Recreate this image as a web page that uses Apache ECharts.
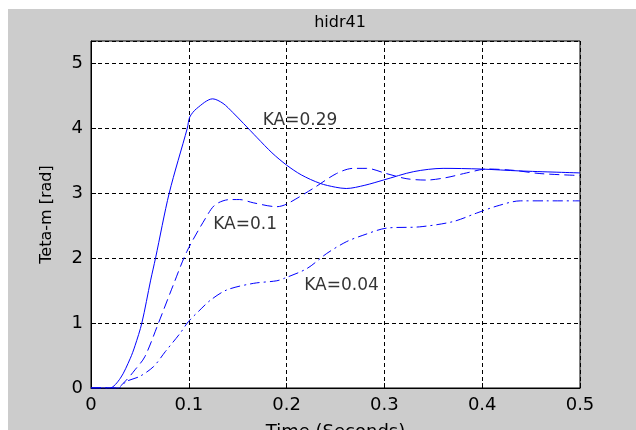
<!DOCTYPE html>
<html>
<head>
<meta charset="utf-8">
<script src="https://cdn.jsdelivr.net/npm/echarts@6/dist/echarts.min.js"></script>
<style>html,body{margin:0;padding:0;background:#fff}#c{width:636px;height:430px}</style>
</head>
<body>
<div id="c"></div>
<script>
// KA = 0.29 (solid)
var tSolid = [0, 0.019, 0.03, 0.04, 0.045, 0.052, 0.061, 0.066, 0.08, 0.0985, 0.101, 0.108, 0.1244, 0.135, 0.145, 0.156, 0.17, 0.185, 0.2, 0.215, 0.234, 0.25, 0.261, 0.28, 0.299, 0.33, 0.36, 0.398, 0.439, 0.5];
var ySolid = [0, 0, 0.15, 0.45, 0.65, 1.0, 1.66, 2.0, 3.0, 4.0, 4.17, 4.3, 4.45, 4.38, 4.24, 4.07, 3.85, 3.62, 3.43, 3.28, 3.15, 3.09, 3.07, 3.12, 3.2, 3.33, 3.38, 3.37, 3.34, 3.31];
// KA = 0.1 (dashed)
var tDashed = [0, 0.026, 0.036, 0.045, 0.055, 0.069, 0.084, 0.098, 0.117, 0.127, 0.142, 0.152, 0.166, 0.19, 0.2, 0.227, 0.251, 0.268, 0.282, 0.302, 0.323, 0.343, 0.364, 0.384, 0.405, 0.432, 0.459, 0.5];
var yDashed = [0, 0, 0.12, 0.28, 0.48, 1.0, 1.58, 2.1, 2.61, 2.82, 2.9, 2.9, 2.85, 2.79, 2.83, 3.07, 3.3, 3.38, 3.38, 3.3, 3.22, 3.2, 3.24, 3.31, 3.37, 3.35, 3.3, 3.27];
// KA = 0.04 (dash-dot)
var tDashDot = [0, 0.028, 0.036, 0.05, 0.064, 0.076, 0.091, 0.0995, 0.11, 0.122, 0.139, 0.166, 0.19, 0.198, 0.221, 0.241, 0.261, 0.278, 0.302, 0.336, 0.37, 0.394, 0.415, 0.439, 0.466, 0.5];
var yDashDot = [0, 0, 0.1, 0.18, 0.33, 0.56, 0.84, 1.02, 1.18, 1.35, 1.51, 1.61, 1.65, 1.69, 1.84, 2.07, 2.25, 2.35, 2.46, 2.48, 2.56, 2.69, 2.8, 2.88, 2.88, 2.88];
// annotation labels
var labelText = ['KA=0.29', 'KA=0.1', 'KA=0.04'];
var labelT = [0.1756, 0.125, 0.218];
var labelY = [4.12, 2.51, 1.58];

function pairs(t, y) { return t.map(function (v, i) { return [v, y[i]]; }); }

var chart = echarts.init(document.getElementById('c'), null, { renderer: 'canvas' });
var FONT = 'DejaVu Sans';
var blue = '#0000ff';
chart.setOption({
  backgroundColor: '#ffffff',
  animation: false,
  graphic: [{
    type: 'rect', left: 8, top: 9, z: -10,
    shape: { width: 628, height: 421 },
    style: { fill: '#cccccc' }
  }],
  title: {
    text: 'hidr41', left: 335, top: 10, textAlign: 'center',
    textStyle: { fontFamily: FONT, fontSize: 16, fontWeight: 'normal', color: '#000' }
  },
  grid: {
    left: 91, top: 41, right: 56, bottom: 42,
    containLabel: false, outerBoundsMode: 'none',
    show: true, backgroundColor: '#ffffff', borderColor: '#000', borderWidth: 1
  },
  xAxis: {
    type: 'value', min: 0, max: 0.5, interval: 0.1,
    name: 'Time (Seconds)', nameLocation: 'middle', nameGap: 35,
    nameTextStyle: { fontFamily: FONT, fontSize: 18, color: '#000' },
    axisLine: { lineStyle: { color: '#000' } },
    axisTick: { inside: true, length: 5, lineStyle: { color: '#000' } },
    axisLabel: { fontFamily: FONT, fontSize: 18, color: '#000', margin: 8,
      formatter: function (v) { return Math.round(v * 10) / 10 + ''; } },
    splitLine: { show: true, lineStyle: { color: '#000', type: [4, 3], width: 1 } }
  },
  yAxis: {
    type: 'value', min: 0, max: 5.34, interval: 1,
    name: 'Teta-m [rad]', nameLocation: 'middle', nameGap: 36,
    nameTextStyle: { fontFamily: FONT, fontSize: 16, color: '#000' },
    axisLine: { show: true, lineStyle: { color: '#000' } },
    axisTick: { show: true, inside: true, length: 5, lineStyle: { color: '#000' } },
    axisLabel: { fontFamily: FONT, fontSize: 18, color: '#000', margin: 8,
      formatter: function (v) { return Math.abs(v - Math.round(v)) < 1e-6 ? String(Math.round(v)) : ''; } },
    splitLine: { show: true, lineStyle: { color: '#000', type: [4, 3], width: 1 } }
  },
  series: [
    { type: 'line', data: pairs(tSolid, ySolid), showSymbol: false, smooth: 0.3,
      lineStyle: { color: blue, width: 1 }, z: 5 },
    { type: 'line', data: pairs(tDashed, yDashed), showSymbol: false, smooth: 0.3,
      lineStyle: { color: blue, width: 1, type: [10, 5] }, z: 5 },
    { type: 'line', data: pairs(tDashDot, yDashDot), showSymbol: false, smooth: 0.3,
      lineStyle: { color: blue, width: 1, type: [10, 4, 2, 4] }, z: 5 },
    { type: 'scatter', symbolSize: 0, z: 6,
      data: labelT.map(function (t, i) { return { value: [t, labelY[i]], name: labelText[i] }; }),
      label: { show: true, position: 'right', distance: 0, formatter: '{b}',
        fontFamily: FONT, fontSize: 17, color: '#000' } }
  ]
});
</script>
</body>
</html>
